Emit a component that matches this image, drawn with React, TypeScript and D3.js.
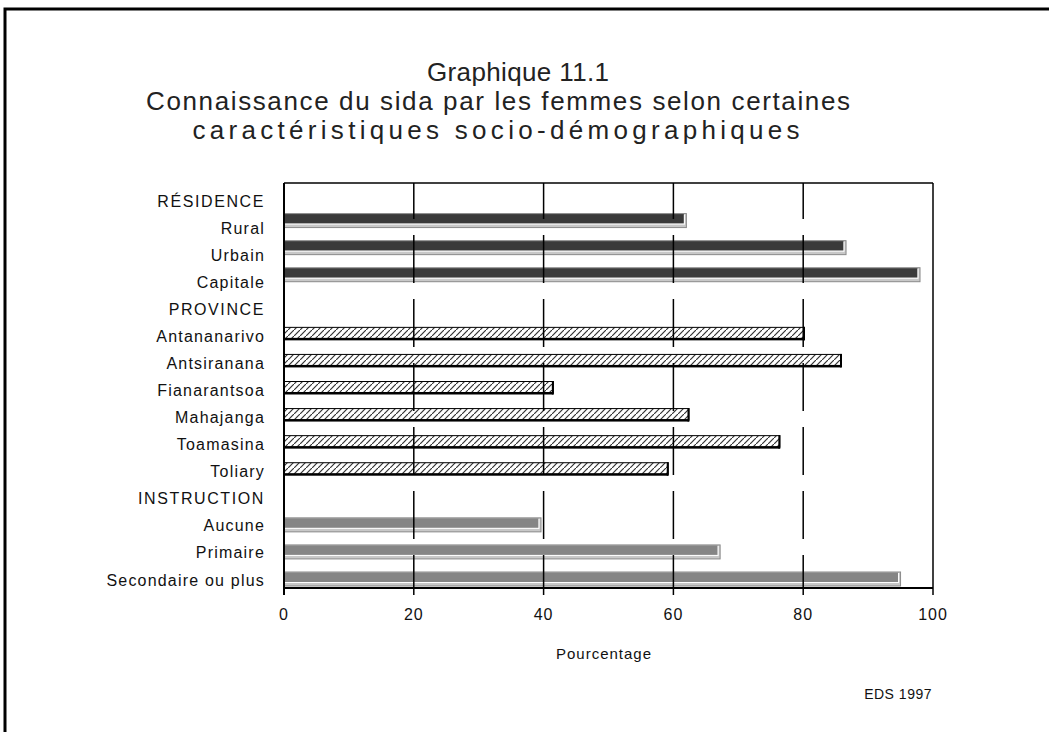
import React from "react";
import * as d3 from "d3";

const titleLines = [
  "Graphique 11.1",
  "Connaissance du sida par les femmes selon certaines",
  "caractéristiques socio-démographiques",
];
const sectionTitles = ["RÉSIDENCE", "PROVINCE", "INSTRUCTION"];
const residenceLabels = ["Rural", "Urbain", "Capitale"];
const residenceValues = [62.0, 86.6, 98.0];
const provinceLabels = ["Antananarivo", "Antsiranana", "Fianarantsoa", "Mahajanga", "Toamasina", "Toliary"];
const provinceValues = [80.2, 85.9, 41.5, 62.4, 76.4, 59.2];
const instructionLabels = ["Aucune", "Primaire", "Secondaire ou plus"];
const instructionValues = [39.6, 67.2, 95.0];
const xTicks = [0, 20, 40, 60, 80, 100];
const xTitle = "Pourcentage";
const sourceNote = "EDS 1997";

type Row = { key: string; label: string; header: boolean; value?: number; section: number };

const sections = [
  { labels: residenceLabels, values: residenceValues },
  { labels: provinceLabels, values: provinceValues },
  { labels: instructionLabels, values: instructionValues },
];

const rows: Row[] = [];
sections.forEach((s, si) => {
  rows.push({ key: "h" + si, label: sectionTitles[si], header: true, section: si });
  s.labels.forEach((l, i) => rows.push({ key: si + "-" + i, label: l, header: false, value: s.values[i], section: si }));
});

const FONT = "'Liberation Sans', Arial, sans-serif";

export default function App() {
  const W = 1049, H = 732;
  const left = 284, right = 933, top = 183, bottom = 588;
  const x = d3.scaleLinear().domain([0, 100]).range([left, right]);
  const y = d3.scalePoint<string>().domain(rows.map((r) => r.key)).range([201, 580]);
  const barOffset = [-7.5, -2.5, -1];
  const barH = 14;

  const titleStyle = [
    { x: 518, y: 81, len: 182 },
    { x: 498, y: 110, len: 704 },
    { x: 496, y: 139, len: 607 },
  ];

  return (
    <svg width={W} height={H} style={{ position: "absolute", left: 0, top: 0, background: "#fff" }} fontFamily={FONT}>
      <defs>
        <pattern id="hatch" width="6" height="6" patternUnits="userSpaceOnUse">
          <rect width="6" height="6" fill="#fff" />
          <path d="M0,6 L6,0" stroke="#333" strokeWidth="1.2" />
        </pattern>
      </defs>
      <rect x={0} y={0} width={W} height={H} fill="#fff" />
      {/* outer frame */}
      <rect x={5} y={9} width={W + 10} height={H + 10} fill="none" stroke="#000" strokeWidth={3} />

      {/* title */}
      <g fontSize={26} fill="#222" textAnchor="middle">
        {titleLines.map((t, i) => (
          <text key={i} x={titleStyle[i].x} y={titleStyle[i].y} textLength={titleStyle[i].len} lengthAdjust="spacing">{t}</text>
        ))}
      </g>

      {/* bars */}
      {rows.filter((r) => !r.header).map((r) => {
        const cy = (y(r.key) as number) + barOffset[r.section];
        const y0 = cy - barH / 2;
        const x0 = x(0);
        const w = x(r.value as number) - x0;
        if (r.section === 1) {
          return (
            <g key={r.key}>
              <rect x={x0} y={y0 + 0.5} width={w} height={barH - 2.5} fill="url(#hatch)" stroke="#000" strokeWidth={1} />
              <rect x={x0} y={y0 + barH - 3} width={w} height={2.5} fill="#000" />
              <rect x={x0 + w - 1.5} y={y0} width={2} height={barH - 0.5} fill="#000" />
            </g>
          );
        }
        const dark = r.section === 0 ? "#3a3a3a" : "#858585";
        return (
          <g key={r.key}>
            <rect x={x0} y={y0} width={w} height={barH} fill="#c8c8c8" stroke="#8a8a8a" strokeWidth={1} />
            <rect x={x0} y={y0 + 0.5} width={w - 2.5} height={barH - 4.5} fill={dark} />
            <line x1={x0} x2={x0 + w - 2} y1={y0 + barH - 3.5} y2={y0 + barH - 3.5} stroke="#fff" strokeWidth={1} />
            <line x1={x0 + w - 2} x2={x0 + w - 2} y1={y0 + 1} y2={y0 + barH - 3} stroke="#fff" strokeWidth={1} />
          </g>
        );
      })}

      {/* gridlines */}
      {xTicks.filter((t) => t > 0 && t < 100).map((t) => (
        <line key={"g" + t} x1={x(t)} x2={x(t)} y1={top} y2={bottom} stroke="#000" strokeWidth={1.5}
          strokeDasharray="48,16" strokeDashoffset={12} />
      ))}

      {/* frame of plot */}
      <line x1={left} x2={right} y1={top} y2={top} stroke="#000" strokeWidth={1.5} />
      <line x1={right} x2={right} y1={top} y2={bottom} stroke="#000" strokeWidth={1.5} />
      <line x1={left} x2={left} y1={top} y2={bottom + 7} stroke="#000" strokeWidth={2} />
      <line x1={left} x2={right} y1={bottom} y2={bottom} stroke="#000" strokeWidth={2} />
      {xTicks.map((t) => (
        <g key={"t" + t}>
          <line x1={x(t)} x2={x(t)} y1={bottom} y2={bottom + 7} stroke="#000" strokeWidth={1.5} />
          <text x={x(t)} y={620} fontSize={16} textAnchor="middle" fill="#111" letterSpacing={1}>{t}</text>
        </g>
      ))}

      {/* row labels */}
      {rows.map((r) => (
        <text key={"l" + r.key} x={265} y={(y(r.key) as number) + 5.5} fontSize={16} textAnchor="end" fill="#111"
          letterSpacing={r.header ? 1.6 : 1.2}>{r.label}</text>
      ))}

      <text x={604} y={659} fontSize={15} textAnchor="middle" fill="#111" letterSpacing={1}>{xTitle}</text>
      <text x={932} y={699} fontSize={14} textAnchor="end" fill="#111" letterSpacing={0.5}>{sourceNote}</text>
    </svg>
  );
}
